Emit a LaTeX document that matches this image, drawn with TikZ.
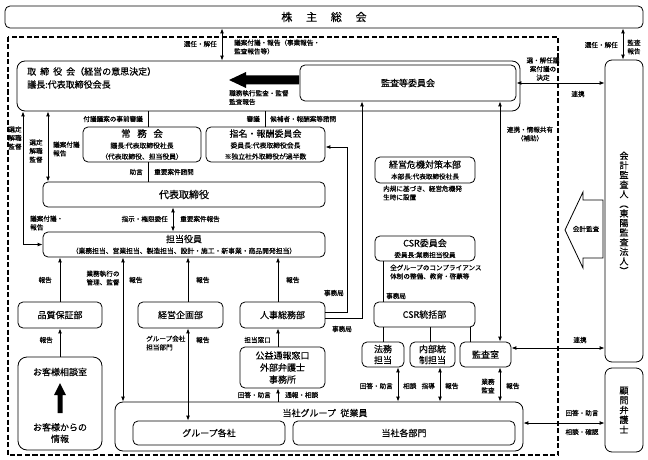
\documentclass[tikz,border=0pt]{standalone}
\usepackage{fontspec}
\setmainfont{Noto Sans CJK JP}[FakeBold=0.3]
\usetikzlibrary{arrows.meta}
\newcommand\ftT{\fontsize{9}{11}\selectfont}
\newcommand\ftS{\fontsize{6.8}{9}\selectfont}
\newcommand\ftL{\fontsize{6.6}{8.6}\selectfont}
\newcommand\gbox[7][]{\node[box,#1,minimum width={(#5-#3)*1pt},minimum height={(#6-#4)*1pt}] (#2) at ({(#3+#5)/2},{(#4+#6)/2}) {#7};}
\begin{document}
\begin{tikzpicture}[x=1pt,y=-1pt,
  box/.style={draw, rounded corners=5pt, line width=0.8pt, inner sep=0pt, align=center, font=\ftT},
  lbl/.style={inner sep=0pt, font=\ftL, align=center},
  arr/.style={-{Latex[length=5pt,width=4pt]}, line width=0.9pt},
  dbl/.style={{Latex[length=5pt,width=4pt]}-{Latex[length=5pt,width=4pt]}, line width=0.9pt},
  conn/.style={line width=0.9pt}]
\useasboundingbox (0,0) rectangle (648,460);
\foreach \v in {23,48,123,148,173,188,222,265,278,347,362,383,398,430,440,470,500,623}{\coordinate (x\v) at (\v,0);}

% dashed company boundary
\draw[line width=1.5pt, dash pattern=on 5pt off 2.5pt] (8,37) rectangle (558,455);

% boxes
\gbox[font=\fontsize{11}{13}\selectfont]{sh}{5}{6}{643}{28}{株\hspace{1.25em}主\hspace{1.25em}総\hspace{1.25em}会}
\gbox[rounded corners=8pt]{board}{17}{61}{520}{111}{}
\node[anchor=north west, inner sep=0pt, align=left, font=\fontsize{9}{13}\selectfont] (boardt) at (27,67) {取\hspace{4pt}締\hspace{4pt}役\hspace{4pt}会（経営の意思決定）\\議長:代表取締役会長};
\gbox{ac}{300}{65}{516}{101}{監査等委員会}
\gbox{jm}{83}{127}{201}{162}{{\fontsize{9.5}{11}\selectfont 常\hspace{.7em}務\hspace{.7em}会}\\\ftS 議長:代表取締役社長\\\ftS （代表取締役、担当役員）}
\gbox{nr}{206}{127}{325}{162}{指名・報酬委員会\\\ftS 委員長:代表取締役会長\\\ftS ※独立社外取締役が過半数}
\gbox[font=\fontsize{10}{12}\selectfont]{dr}{43}{182}{325}{207}{代表取締役}
\gbox{tt}{43}{232}{325}{257}{担当役員\\\ftS （業務担当、営業担当、製造担当、設計・施工・新事業・商品開発担当）}
\gbox{qa}{18}{302}{102}{328}{品質保証部}
\gbox{kp}{138}{302}{223}{328}{経営企画部}
\gbox{hr}{240}{302}{325}{328}{人事総務部}
\gbox[rounded corners=9pt]{cs}{18}{357}{102}{450}{}
\gbox[font=\fontsize{9}{12}\selectfont]{wb}{240}{347}{325}{388}{公益通報窓口\\外部弁護士\\事務所}
\gbox[rounded corners=8pt]{emp}{115}{402}{523}{451}{}
\gbox{grp}{133}{421}{285}{445}{グループ各社}
\gbox{dept}{293}{421}{515}{445}{当社各部門}
\gbox{crisis}{375}{157}{475}{183}{経営危機対策本部\\\ftL 本部長:代表取締役社長}
\gbox{csrc}{375}{236}{475}{261}{CSR委員会\\\ftL 委員長:業務担当役員}
\gbox{csrd}{374}{302}{475}{327}{CSR統括部}
\gbox{legal}{362}{342}{404}{367}{法務\\担当}
\gbox{ic}{410}{342}{455}{367}{内部統\\制担当}
\gbox{audit}{460}{342}{511}{367}{監査室}
\gbox[rounded corners=7pt]{ca}{605}{60}{643}{362}{}
\gbox[rounded corners=7pt]{lawyer}{605}{368}{643}{452}{}
\node[font=\fontsize{9}{9.6}\selectfont, align=center, inner sep=0pt] (cat) at (624,213) {会\\計\\監\\査\\人\\︵\\東\\陽\\監\\査\\法\\人\\︶};
\node[font=\fontsize{9}{9.8}\selectfont, align=center, inner sep=0pt] (lawt) at (lawyer.center) {顧\\問\\弁\\護\\士};
\node[font=\ftT, inner sep=0pt] (empt) at (325,413) {当社グループ\hspace{.5em}従業員};
\node[font=\ftT, inner sep=0pt] (cst) at (60,372) {お客様相談室};
\node[font=\fontsize{9}{11.5}\selectfont, align=center, inner sep=0pt] (csb) at (60,433) {お客様からの\\情報};

% block arrows
\fill (299,75.5) -- (246,75.5) -- (246,72) -- (229,80) -- (246,88) -- (246,84.5) -- (299,84.5) -- cycle;
\fill (57.5,413) -- (57.5,395) -- (54,395) -- (60,383) -- (66,395) -- (62.5,395) -- (62.5,413) -- cycle;
\draw[line width=0.8pt, fill=white] (603,200) -- (583,200) -- (583,192) -- (565,230) -- (583,268) -- (583,258) -- (603,258) -- cycle;
\node[lbl] (lca) at (586,229) {会計監査};

% connectors
\draw[dbl] (sh.south -| x222) -- (board.north -| x222);
\draw[dbl] (sh.south -| x623) -- (ca.north -| x623);
\draw[dbl] (ac.east) -- (ac.east -| ca.west);
\draw[conn] (board.south -| x148) -- (jm.north -| x148);
\draw[conn] (board.south -| x265) -- (nr.north -| x265);
\draw[conn] (jm.south -| x148) -- (dr.north -| x148);
\draw[dbl] (board.south -| x48) -- (dr.north -| x48);
\draw[dbl] (board.south -| x23) |- (tt.west);
\draw[dbl] (dr.south -| x173) -- (tt.north -| x173);
\draw[arr] (qa.north) -- (qa.north |- tt.south);
\draw[dbl] (tt.south -| x123) -- (emp.north -| x123);
\draw[arr] (kp.north -| x188) -- (tt.south -| x188);
\draw[arr] (hr.north -| x278) -- (tt.south -| x278);
\draw[arr] (cs.north) -- (qa.south);
\draw[dbl] (kp.south -| x188) -- (grp.north -| x188);
\draw[arr] (wb.north -| x278) -- (hr.south -| x278);
\draw[arr] (emp.north -| x278) -- (wb.south -| x278);
\coordinate (hrA) at ([yshift=3pt]hr.east);
\coordinate (nrA) at ([yshift=-2.5pt]nr.east);
\draw[arr] (hrA) -- (hrA -| x347) |- (nrA);
\coordinate (hrB) at ([yshift=-3pt]hr.east);
\draw[arr] (hrB) -| (ac.south -| x362);
\draw[dbl] (ac.south -| x500) -- (audit.north -| x500);
\draw[conn] (csrc.south -| x383) -- (csrd.north -| x383);
\draw[conn] (csrd.south -| x383) -- (legal.north -| x383);
\draw[conn] (csrd.south -| x430) -- (ic.north -| x430);
\draw[conn] (csrd.south -| x470) -- (audit.north -| x470);
\draw[dbl] (legal.south -| x398) -- (emp.north -| x398);
\draw[dbl] (ic.south -| x440) -- (emp.north -| x440);
\draw[dbl] (audit.south -| x500) -- (emp.north -| x500);
\coordinate (auA) at ([yshift=6.5pt]audit.east);
\draw[dbl] (auA) -- (auA -| ca.west);
\coordinate (emA) at ([yshift=3.5pt]emp.east);
\draw[dbl] (emA) -- (emA -| lawyer.west);

% labels
\node[lbl, anchor=east] (l1) at (217,44) {選任・解任};
\node[lbl, anchor=west, align=left] (l2) at (234,47) {議案付議・報告（事業報告・\\監査報告等）};
\node[lbl, anchor=east] (l3) at (618,45) {選任・解任};
\node[lbl] (l4) at (634,47) {監査\\報告};
\node[lbl] (l5) at (578,94) {連携};
\node[lbl] (l6) at (543,69) {選・解任議\\案付議の\\決定};
\node[lbl, anchor=north west, align=left] (lexec) at (229,90) {職務執行監査・監督\\監査報告};
\node[lbl, anchor=east] (l7) at (143,119) {付議議案の事前審議};
\node[lbl, anchor=east] (l8) at (260,119) {審議};
\node[lbl, anchor=west] (l9) at (270,119) {候補者・報酬案等諮問};
\node[lbl, anchor=east] (l10) at (143,172) {助言};
\node[lbl, anchor=west] (l11) at (154,172) {重要案件諮問};
\node[lbl] (l12) at (15,138) {選定\\解職\\監督};
\node[lbl] (l13) at (36,151) {選定\\解職\\監督};
\node[lbl, anchor=west, align=left] (l14) at (53,149) {議案付議\\報告};
\node[lbl, anchor=west, align=left] (l15) at (30,223) {議案付議・\\報告};
\node[lbl, anchor=east] (l16) at (168,219) {指示・権限委任};
\node[lbl, anchor=west] (l17) at (180,219) {重要案件報告};
\node[lbl, anchor=east] (l18) at (52,280) {報告};
\node[lbl] (l19) at (103,278) {業務執行の\\管理、監督};
\node[lbl, anchor=west] (l20) at (129,280) {報告};
\node[lbl, anchor=west] (l21) at (196,280) {報告};
\node[lbl, anchor=west] (l22) at (286,280) {報告};
\node[lbl, anchor=east] (l23) at (344,293) {事務局};
\node[lbl] (l24) at (342,329) {事務局};
\node[lbl, anchor=east] (l25) at (53,340) {報告};
\node[lbl, anchor=west, align=left] (l26) at (146,343) {グループ会社\\担当部門};
\node[lbl, anchor=west] (l27) at (196,340) {報告};
\node[lbl, anchor=east] (l28) at (271,340) {担当窓口};
\node[lbl, anchor=east] (l29) at (271,395) {回答・助言};
\node[lbl, anchor=west] (l30) at (285,395) {通報・相談};
\node[lbl] (l31) at (530,134) {連携・情報共有\\（補助）};
\node[lbl, anchor=west, align=left] (l32) at (383,193) {内規に基づき、経営危機発\\生時に設置};
\node[lbl, anchor=west, align=left] (l33) at (390,272) {全グループのコンプライアンス\\体制の整備、教育・啓蒙等};
\node[lbl, anchor=west] (l34) at (386,296) {事務局};
\node[lbl, anchor=east] (l35) at (393,386) {回答・助言};
\node[lbl, anchor=west] (l36) at (403,386) {相談};
\node[lbl, anchor=east] (l37) at (435,386) {指導};
\node[lbl, anchor=west] (l38) at (445,386) {報告};
\node[lbl] (l39) at (488,386) {業務\\監査};
\node[lbl, anchor=west] (l40) at (506,386) {報告};
\node[lbl] (l41) at (580,340) {連携};
\node[lbl] (l42) at (582,413) {回答・助言};
\node[lbl] (l43) at (582,432) {相談・確認};
\end{tikzpicture}
\end{document}
